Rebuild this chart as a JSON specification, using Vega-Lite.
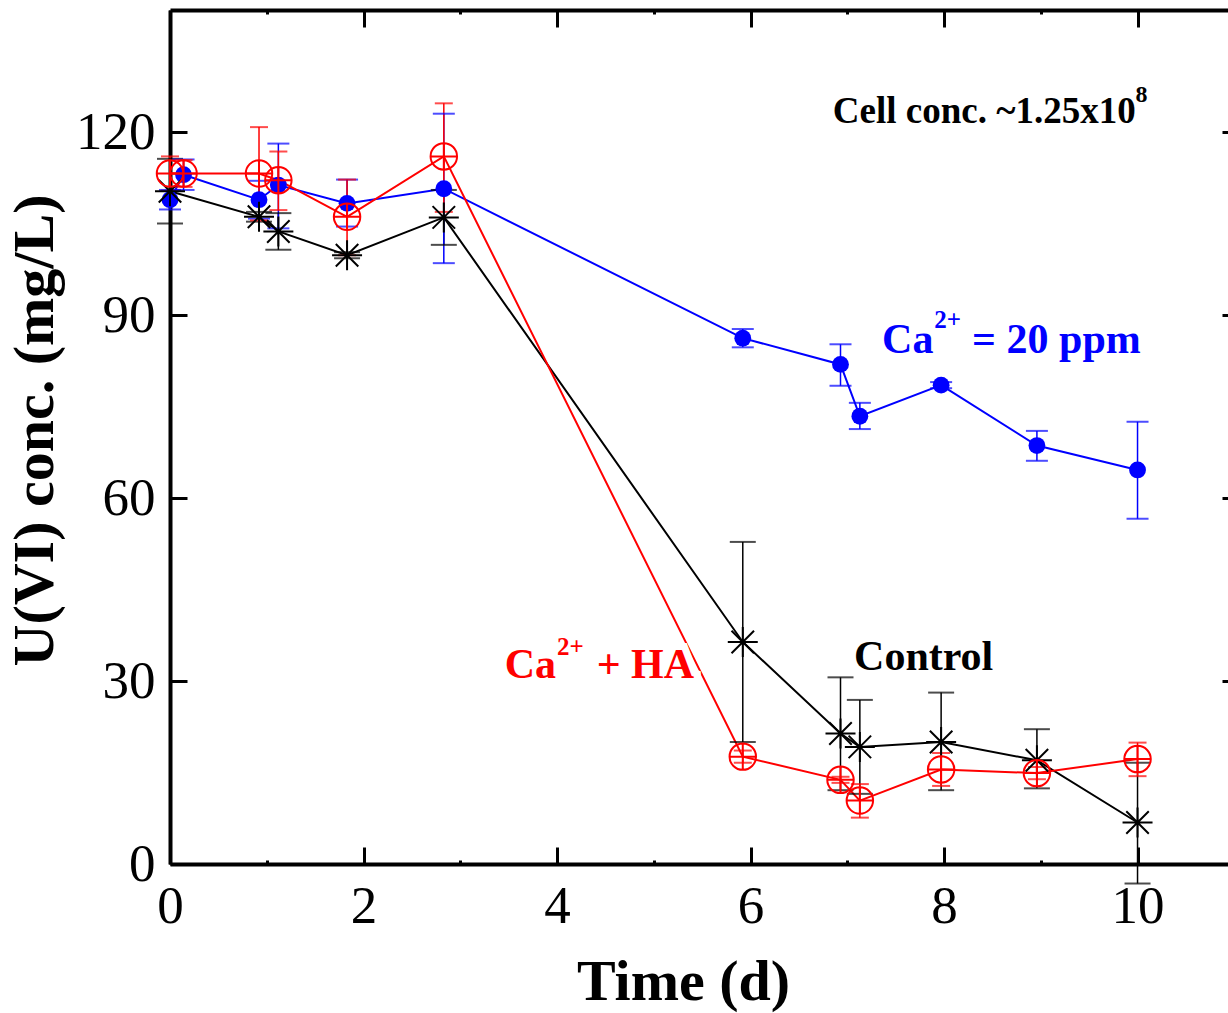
{
  "$schema": "https://vega.github.io/schema/vega-lite/v6.json",
  "width": 1058,
  "height": 854,
  "autosize": {"type": "none"},
  "padding": {"left": 170, "top": 10, "right": 0, "bottom": 149},
  "background": "white",
  "config": {
    "view": {"stroke": null},
    "font": "Liberation Serif",
    "axis": {
      "grid": false,
      "domain": false,
      "domainColor": "#000",
      "domainWidth": 4,
      "tickColor": "#000",
      "tickWidth": 3,
      "labelFont": "Liberation Serif",
      "labelFontSize": 53,
      "labelColor": "#000",
      "labelFlush": false,
      "labelOverlap": false,
      "titleFont": "Liberation Serif",
      "titleFontSize": 58,
      "titleFontWeight": "bold",
      "titleColor": "#000"
    }
  },
  "datasets": {
    "obs": [
      {"series": "Control", "t": 0, "u": 110.3, "lo": 105.0, "hi": 115.6},
      {"series": "Control", "t": 0.92, "u": 106.1, "lo": 105.3, "hi": 106.9},
      {"series": "Control", "t": 1.12, "u": 103.7, "lo": 100.7, "hi": 106.7},
      {"series": "Control", "t": 1.83, "u": 99.8, "lo": 99.3, "hi": 100.3},
      {"series": "Control", "t": 2.83, "u": 106.0, "lo": 101.5, "hi": 110.5},
      {"series": "Control", "t": 5.92, "u": 36.4, "lo": 20.0, "hi": 52.8},
      {"series": "Control", "t": 6.93, "u": 21.4, "lo": 12.1, "hi": 30.6},
      {"series": "Control", "t": 7.13, "u": 19.2, "lo": 11.5, "hi": 26.9},
      {"series": "Control", "t": 7.97, "u": 20.0, "lo": 12.1, "hi": 28.1},
      {"series": "Control", "t": 8.96, "u": 17.0, "lo": 12.4, "hi": 22.1},
      {"series": "Control", "t": 10.0, "u": 6.8, "lo": -3.2, "hi": 16.6},
      {"series": "Ca 20 ppm", "t": 0, "u": 108.9, "lo": 107.3, "hi": 110.5},
      {"series": "Ca 20 ppm", "t": 0.14, "u": 113.0, "lo": 110.5, "hi": 115.5},
      {"series": "Ca 20 ppm", "t": 0.92, "u": 108.9, "lo": 105.8, "hi": 112.0},
      {"series": "Ca 20 ppm", "t": 1.12, "u": 111.3, "lo": 104.2, "hi": 118.1},
      {"series": "Ca 20 ppm", "t": 1.83, "u": 108.3, "lo": 104.5, "hi": 112.2},
      {"series": "Ca 20 ppm", "t": 2.83, "u": 110.7, "lo": 98.5, "hi": 123.0},
      {"series": "Ca 20 ppm", "t": 5.92, "u": 86.2, "lo": 84.7, "hi": 87.7},
      {"series": "Ca 20 ppm", "t": 6.93, "u": 81.9, "lo": 78.4, "hi": 85.2},
      {"series": "Ca 20 ppm", "t": 7.13, "u": 73.4, "lo": 71.3, "hi": 75.6},
      {"series": "Ca 20 ppm", "t": 7.97, "u": 78.5, "lo": 78.0, "hi": 79.0},
      {"series": "Ca 20 ppm", "t": 8.96, "u": 68.6, "lo": 66.1, "hi": 71.0},
      {"series": "Ca 20 ppm", "t": 10.0, "u": 64.6, "lo": 56.6, "hi": 72.5},
      {"series": "Ca + HA", "t": 0, "u": 113.2, "lo": 110.4, "hi": 116.0},
      {"series": "Ca + HA", "t": 0.14, "u": 113.2, "lo": 111.0, "hi": 115.4},
      {"series": "Ca + HA", "t": 0.92, "u": 113.2, "lo": 105.5, "hi": 120.8},
      {"series": "Ca + HA", "t": 1.12, "u": 112.1, "lo": 107.2, "hi": 116.8},
      {"series": "Ca + HA", "t": 1.83, "u": 106.1, "lo": 99.8, "hi": 112.2},
      {"series": "Ca + HA", "t": 2.83, "u": 116.0, "lo": 106.9, "hi": 124.7},
      {"series": "Ca + HA", "t": 5.92, "u": 17.6, "lo": 16.6, "hi": 18.6},
      {"series": "Ca + HA", "t": 6.93, "u": 13.8, "lo": 13.3, "hi": 14.3},
      {"series": "Ca + HA", "t": 7.13, "u": 10.4, "lo": 7.6, "hi": 13.1},
      {"series": "Ca + HA", "t": 7.97, "u": 15.5, "lo": 12.8, "hi": 18.2},
      {"series": "Ca + HA", "t": 8.96, "u": 14.9, "lo": 13.9, "hi": 15.9},
      {"series": "Ca + HA", "t": 10.0, "u": 17.2, "lo": 14.4, "hi": 19.9}
    ],
    "one": [{}]
  },
  "layer": [
    {
      "data": {"name": "obs"},
      "mark": {"type": "line", "strokeWidth": 2},
      "encoding": {
        "x": {
          "field": "t", "type": "quantitative",
          "scale": {"domain": [0, 10.935], "nice": false, "zero": false},
          "axis": {"orient": "bottom", "values": [0, 2, 4, 6, 8, 10], "tickSize": -17, "domain": true, "labelPadding": 33, "title": "Time (d)", "titleX": 513, "titlePadding": 20}
        },
        "y": {
          "field": "u", "type": "quantitative",
          "scale": {"domain": [0, 140], "nice": false, "zero": false},
          "axis": {"orient": "left", "values": [0, 30, 60, 90, 120], "tickSize": -17, "domain": true, "labelPadding": 32, "title": "U(VI) conc. (mg/L)", "titleY": 420, "titlePadding": 11}
        },
        "color": {
          "field": "series", "type": "nominal",
          "scale": {"domain": ["Control", "Ca 20 ppm", "Ca + HA"], "range": ["#000000", "#0000ff", "#ff0000"]},
          "legend": null
        }
      }
    },
    {
      "data": {"name": "obs"},
      "mark": {"type": "rule", "strokeWidth": 1.5},
      "encoding": {
        "x": {
          "field": "t", "type": "quantitative",
          "axis": {"orient": "top", "values": [0, 2, 4, 6, 8, 10], "tickSize": -17, "domain": true, "labels": false, "title": null}
        },
        "y": {
          "field": "lo", "type": "quantitative",
          "axis": {"orient": "right", "values": [0, 30, 60, 90, 120], "tickSize": -6, "labels": false, "title": null}
        },
        "y2": {"field": "hi"},
        "color": {"field": "series", "type": "nominal", "legend": null}
      }
    },
    {
      "data": {"name": "obs"},
      "mark": {"type": "tick", "orient": "horizontal", "thickness": 2},
      "encoding": {
        "x": {
          "field": "t", "type": "quantitative",
          "axis": {"orient": "bottom", "values": [1, 3, 5, 7, 9], "tickSize": -4, "labels": false, "title": null}
        },
        "y": {"field": "lo", "type": "quantitative", "axis": null},
        "size": {
          "field": "series", "type": "nominal",
          "scale": {"domain": ["Control", "Ca 20 ppm", "Ca + HA"], "range": [26, 18, 22]},
          "legend": null
        },
        "color": {"field": "series", "type": "nominal", "legend": null}
      }
    },
    {
      "data": {"name": "obs"},
      "mark": {"type": "tick", "orient": "horizontal", "thickness": 2},
      "encoding": {
        "x": {
          "field": "t", "type": "quantitative",
          "axis": {"orient": "top", "values": [1, 3, 5, 7, 9], "tickSize": -4, "labels": false, "title": null}
        },
        "y": {"field": "hi", "type": "quantitative", "axis": null},
        "size": {"field": "series", "type": "nominal", "legend": null},
        "color": {"field": "series", "type": "nominal", "legend": null}
      }
    },
    {
      "data": {"name": "obs"},
      "transform": [{"filter": "datum.series === 'Ca 20 ppm'"}],
      "mark": {"type": "point", "shape": "circle", "filled": true, "size": 283, "color": "#0000ff", "opacity": 1},
      "encoding": {
        "x": {"field": "t", "type": "quantitative", "axis": null},
        "y": {"field": "u", "type": "quantitative", "axis": null}
      }
    },
    {
      "data": {"name": "obs"},
      "transform": [{"filter": "datum.series === 'Control'"}],
      "mark": {
        "type": "point", "filled": false, "size": 900, "color": "#000000", "strokeWidth": 2, "opacity": 1,
        "shape": "M-1,0L1,0M0,-1L0,1M-0.75,-0.75L0.75,0.75M-0.75,0.75L0.75,-0.75"
      },
      "encoding": {
        "x": {"field": "t", "type": "quantitative", "axis": null},
        "y": {"field": "u", "type": "quantitative", "axis": null}
      }
    },
    {
      "data": {"name": "obs"},
      "transform": [{"filter": "datum.series === 'Ca + HA'"}],
      "mark": {
        "type": "point", "filled": false, "size": 700, "color": "#ff0000", "strokeWidth": 2, "opacity": 1,
        "shape": "M1,0A1,1,0,1,1,-1,0A1,1,0,1,1,1,0ZM-1,0L1,0M0,-1L0,1"
      },
      "encoding": {
        "x": {"field": "t", "type": "quantitative", "axis": null},
        "y": {"field": "u", "type": "quantitative", "axis": null}
      }
    },
    {
      "data": {"name": "one"},
      "mark": {"type": "text", "text": "Cell conc. ~1.25x10", "font": "Liberation Serif", "fontWeight": "bold", "fontSize": 37, "align": "left", "baseline": "alphabetic", "color": "#000"},
      "encoding": {
        "x": {"datum": 6.85, "type": "quantitative", "axis": null},
        "y": {"datum": 121.5, "type": "quantitative", "axis": null}
      }
    },
    {
      "data": {"name": "one"},
      "mark": {"type": "text", "text": "8", "font": "Liberation Serif", "fontWeight": "bold", "fontSize": 24, "align": "left", "baseline": "alphabetic", "color": "#000"},
      "encoding": {
        "x": {"datum": 9.98, "type": "quantitative", "axis": null},
        "y": {"datum": 125.0, "type": "quantitative", "axis": null}
      }
    },
    {
      "data": {"name": "one"},
      "mark": {"type": "text", "text": "Ca", "font": "Liberation Serif", "fontWeight": "bold", "fontSize": 42, "align": "left", "baseline": "alphabetic", "color": "#0000ff"},
      "encoding": {
        "x": {"datum": 7.36, "type": "quantitative", "axis": null},
        "y": {"datum": 83.8, "type": "quantitative", "axis": null}
      }
    },
    {
      "data": {"name": "one"},
      "mark": {"type": "text", "text": "2+", "font": "Liberation Serif", "fontWeight": "bold", "fontSize": 25, "align": "left", "baseline": "alphabetic", "color": "#0000ff"},
      "encoding": {
        "x": {"datum": 7.9, "type": "quantitative", "axis": null},
        "y": {"datum": 87.9, "type": "quantitative", "axis": null}
      }
    },
    {
      "data": {"name": "one"},
      "mark": {"type": "text", "text": "= 20 ppm", "font": "Liberation Serif", "fontWeight": "bold", "fontSize": 42, "align": "left", "baseline": "alphabetic", "color": "#0000ff"},
      "encoding": {
        "x": {"datum": 8.29, "type": "quantitative", "axis": null},
        "y": {"datum": 83.8, "type": "quantitative", "axis": null}
      }
    },
    {
      "data": {"name": "one"},
      "mark": {"type": "text", "text": "+ HA", "font": "Liberation Serif", "fontWeight": "bold", "fontSize": 42, "align": "left", "baseline": "alphabetic", "color": "#ffffff", "stroke": "#ffffff", "strokeWidth": 14},
      "encoding": {
        "x": {"datum": 4.41, "type": "quantitative", "axis": null},
        "y": {"datum": 30.5, "type": "quantitative", "axis": null}
      }
    },
    {
      "data": {"name": "one"},
      "mark": {"type": "text", "text": "Ca", "font": "Liberation Serif", "fontWeight": "bold", "fontSize": 42, "align": "left", "baseline": "alphabetic", "color": "#ff0000"},
      "encoding": {
        "x": {"datum": 3.46, "type": "quantitative", "axis": null},
        "y": {"datum": 30.5, "type": "quantitative", "axis": null}
      }
    },
    {
      "data": {"name": "one"},
      "mark": {"type": "text", "text": "2+", "font": "Liberation Serif", "fontWeight": "bold", "fontSize": 25, "align": "left", "baseline": "alphabetic", "color": "#ff0000"},
      "encoding": {
        "x": {"datum": 4.0, "type": "quantitative", "axis": null},
        "y": {"datum": 34.3, "type": "quantitative", "axis": null}
      }
    },
    {
      "data": {"name": "one"},
      "mark": {"type": "text", "text": "+ HA", "font": "Liberation Serif", "fontWeight": "bold", "fontSize": 42, "align": "left", "baseline": "alphabetic", "color": "#ff0000"},
      "encoding": {
        "x": {"datum": 4.41, "type": "quantitative", "axis": null},
        "y": {"datum": 30.5, "type": "quantitative", "axis": null}
      }
    },
    {
      "data": {"name": "one"},
      "mark": {"type": "text", "text": "Control", "font": "Liberation Serif", "fontWeight": "bold", "fontSize": 42, "align": "left", "baseline": "alphabetic", "color": "#000"},
      "encoding": {
        "x": {"datum": 7.07, "type": "quantitative", "axis": null},
        "y": {"datum": 31.8, "type": "quantitative", "axis": null}
      }
    }
  ],
  "resolve": {"axis": {"x": "independent", "y": "independent"}}
}
